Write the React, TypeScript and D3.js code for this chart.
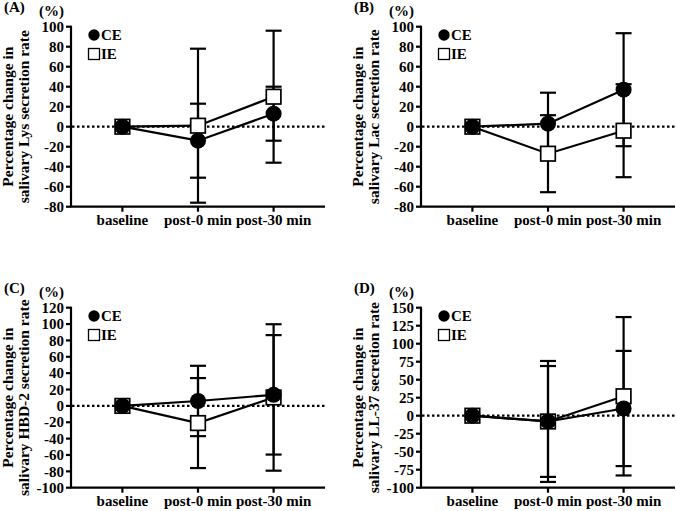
import * as d3 from "d3"

// time points on the x axis
const timepoints = ["baseline", "post-0 min", "post-30 min"]

// (A) Lys
const lysCE = [0, -14, 13]
const lysCEErr = [0, 37, 27]
const lysIE = [0, 1, 30]
const lysIEErr = [0, 77, 66]
const lysTicks = [-80, -60, -40, -20, 0, 20, 40, 60, 80, 100]

// (B) Lac
const lacCE = [0, 3, 37]
const lacCEErr = [0, 31, 56.5]
const lacIE = [0, -27, -4]
const lacIEErr = [0, 38.5, 46.5]
const lacTicks = [-80, -60, -40, -20, 0, 20, 40, 60, 80, 100]

// (C) HBD-2
const hbdCE = [0, 6, 13.5]
const hbdCEErr = [0, 43, 73]
const hbdIE = [0, -21, 10.3]
const hbdIEErr = [0, 55, 89.5]
const hbdTicks = [-100, -80, -60, -40, -20, 0, 20, 40, 60, 80, 100, 120]

// (D) LL-37
const llCE = [0, -8, 10]
const llCEErr = [0, 77, 80]
const llIE = [0, -8, 27]
const llIEErr = [0, 84, 110]
const llTicks = [-100, -75, -50, -25, 0, 25, 50, 75, 100, 125, 150]

const FONT = "'Liberation Serif', 'Times New Roman', serif"
const SW = 2.2

interface PanelProps {
  ox: number
  oy: number
  letter: string
  marker: string
  ticks: number[]
  ce: number[]
  ceErr: number[]
  ie: number[]
  ieErr: number[]
}

function Panel({ ox, oy, letter, marker, ticks, ce, ceErr, ie, ieErr }: PanelProps) {
  const left = ox + 71
  const right = ox + 325
  const top = oy + 26.7
  const bottom = oy + 206.7

  const x = d3.scalePoint<string>().domain(timepoints).range([left, right]).padding(0.68)
  const y = d3
    .scaleLinear()
    .domain([ticks[0], ticks[ticks.length - 1]])
    .range([bottom, top])

  const line = d3
    .line<number>()
    .x((_, i) => x(timepoints[i]) as number)
    .y((d) => y(d))

  const errBars = (vals: number[], errs: number[], key: string) =>
    vals.map((v, i) => {
      if (!errs[i]) return null
      const cx = x(timepoints[i]) as number
      const hi = y(v + errs[i])
      const lo = y(v - errs[i])
      return (
        <g key={key + i} stroke="#000" strokeWidth={SW}>
          <line x1={cx} x2={cx} y1={hi} y2={lo} />
          <line x1={cx - 8} x2={cx + 8} y1={hi} y2={hi} />
          <line x1={cx - 8} x2={cx + 8} y1={lo} y2={lo} />
        </g>
      )
    })

  const midY = (top + bottom) / 2

  return (
    <g fontFamily={FONT} fontWeight="bold" fill="#000">
      <text x={ox + 4} y={top - 15} fontSize={15}>
        {letter}
      </text>
      <text x={ox + 39} y={top - 11} fontSize={15}>
        (%)
      </text>

      {/* y title */}
      <text transform={`translate(${ox + 13},${midY}) rotate(-90)`} textAnchor="middle" fontSize={15.5}>
        Percentage change in
      </text>
      <text transform={`translate(${ox + 29},${midY}) rotate(-90)`} textAnchor="middle" fontSize={15.5}>
        {`salivary ${marker} secretion rate`}
      </text>

      {/* y axis */}
      <line x1={left} x2={left} y1={top - 1} y2={bottom} stroke="#000" strokeWidth={SW} />
      {ticks.map((t) => (
        <g key={t}>
          <line x1={left - 5} x2={left} y1={y(t)} y2={y(t)} stroke="#000" strokeWidth={SW} />
          <text x={left - 7} y={y(t)} dy="0.35em" textAnchor="end" fontSize={15}>
            {t}
          </text>
        </g>
      ))}

      {/* x axis */}
      <line x1={left - 1} x2={right} y1={bottom} y2={bottom} stroke="#000" strokeWidth={SW} />
      {timepoints.map((t) => (
        <g key={t}>
          <line x1={x(t)} x2={x(t)} y1={bottom} y2={bottom + 5} stroke="#000" strokeWidth={SW} />
          <text x={x(t)} y={bottom + 18} textAnchor="middle" fontSize={15}>
            {t}
          </text>
        </g>
      ))}

      {/* zero reference */}
      <line x1={left + 1} x2={right} y1={y(0)} y2={y(0)} stroke="#000" strokeWidth={SW} strokeDasharray="2.5 2.5" />

      {errBars(ie, ieErr, "ie")}
      {errBars(ce, ceErr, "ce")}

      <path d={line(ie) ?? ""} fill="none" stroke="#000" strokeWidth={SW} />
      <path d={line(ce) ?? ""} fill="none" stroke="#000" strokeWidth={SW} />

      {ie.map((v, i) => (
        <rect
          key={"ies" + i}
          x={(x(timepoints[i]) as number) - 7.3}
          y={y(v) - 7.3}
          width={14.6}
          height={14.6}
          fill="#fff"
          stroke="#000"
          strokeWidth={1.7}
        />
      ))}
      {ce.map((v, i) => (
        <circle key={"cec" + i} cx={x(timepoints[i])} cy={y(v)} r={8} fill="#000" />
      ))}

      {/* legend */}
      <circle cx={left + 23} cy={top + 8.3} r={5.7} fill="#000" />
      <text x={left + 30} y={top + 8.3} dy="0.35em" fontSize={15}>
        CE
      </text>
      <rect x={left + 17.5} y={top + 21.8} width={11} height={11} fill="#fff" stroke="#000" strokeWidth={1.3} />
      <text x={left + 30} y={top + 27.3} dy="0.35em" fontSize={15}>
        IE
      </text>
    </g>
  )
}

export default function App() {
  return (
    <svg
      width={676}
      height={511}
      style={{ position: "absolute", left: 0, top: 0, background: "#fff" }}
    >
      <Panel ox={0} oy={0} letter="(A)" marker="Lys" ticks={lysTicks} ce={lysCE} ceErr={lysCEErr} ie={lysIE} ieErr={lysIEErr} />
      <Panel ox={350} oy={0} letter="(B)" marker="Lac" ticks={lacTicks} ce={lacCE} ceErr={lacCEErr} ie={lacIE} ieErr={lacIEErr} />
      <Panel ox={0} oy={281} letter="(C)" marker="HBD-2" ticks={hbdTicks} ce={hbdCE} ceErr={hbdCEErr} ie={hbdIE} ieErr={hbdIEErr} />
      <Panel ox={350} oy={281} letter="(D)" marker="LL-37" ticks={llTicks} ce={llCE} ceErr={llCEErr} ie={llIE} ieErr={llIEErr} />
    </svg>
  )
}
